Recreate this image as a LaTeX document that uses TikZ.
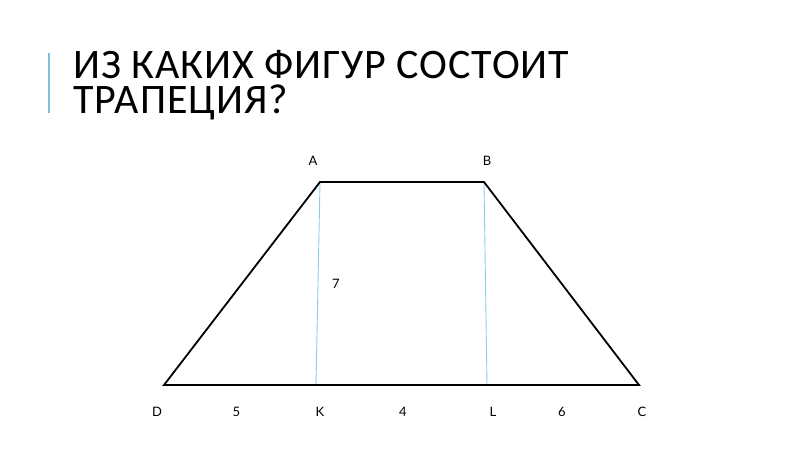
\documentclass[tikz,border=0pt]{standalone}
\usepackage{fontspec}
\setmainfont{Carlito}
\newfontfamily\titlefont[LetterSpace=2.2]{Carlito}
\newfontfamily\labelfont{Lato}
\definecolor{barblue}{RGB}{125,195,215}
\definecolor{hblue}{RGB}{140,205,235}
\begin{document}
\begin{tikzpicture}[x=1pt,y=-1pt]
\tikzstyle{every node}+=[inner sep=0pt]
\tikzstyle{vlabel}=[font=\labelfont\fontsize{13}{15}\selectfont]
\useasboundingbox (0,0) rectangle (800,451);
% title
\draw [barblue, line width=1.5pt] (49,53) -- (49,113);
\node (title) [anchor=base west, align=left, font=\titlefont\fontsize{42}{35}\selectfont] at (73,113) {ИЗ КАКИХ ФИГУР СОСТОИТ\\ТРАПЕЦИЯ?};
% vertices
\coordinate (A) at (320,182);
\coordinate (B) at (484,182);
\coordinate (C) at (639,385);
\coordinate (D) at (164,385);
\coordinate (K) at (316,385);
\coordinate (L) at (487,385);
% heights
\draw [hblue, line width=0.9pt] (A) -- (K);
\draw [hblue, line width=0.9pt] (B) -- (L);
% trapezoid
\draw [black, line width=1.8pt, line join=miter] (A) -- (B) -- (C) -- (D) -- cycle;
% labels
\node (lA) [vlabel] at (313,161) {A};
\node (lB) [vlabel] at (487,161) {B};
\node (l7) [vlabel] at (336,284) {7};
\node (lD) [vlabel] at (157,412) {D};
\node (l5) [vlabel] at (236.5,412) {5};
\node (lK) [vlabel] at (320,412) {K};
\node (l4) [vlabel] at (403,412) {4};
\node (lL) [vlabel] at (493,412) {L};
\node (l6) [vlabel] at (562,412) {6};
\node (lC) [vlabel] at (642,412) {C};
\end{tikzpicture}
\end{document}
